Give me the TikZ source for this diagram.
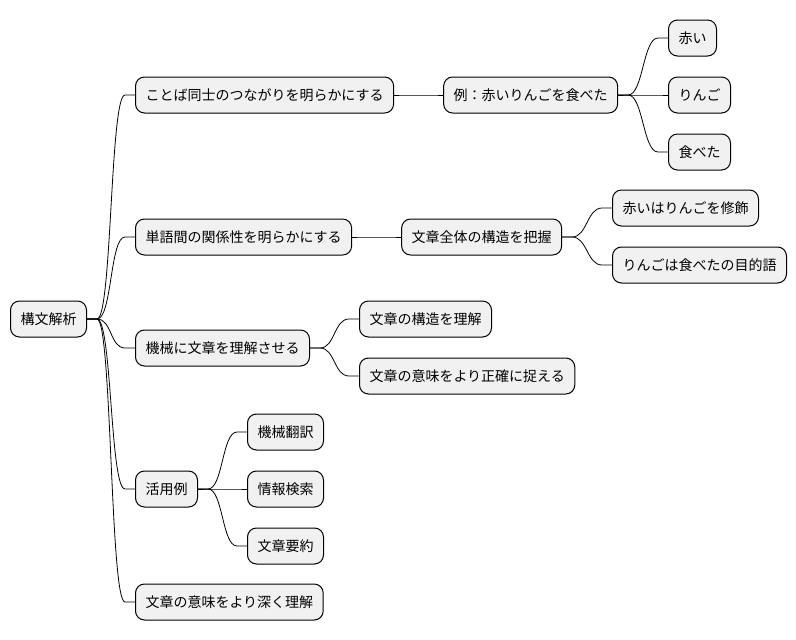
\documentclass[tikz,border=0pt]{standalone}
\usepackage{fontspec}
\setmainfont{Noto Sans CJK JP}
\usepackage{xcolor}
\usepackage{tikz}
\usetikzlibrary{positioning}
\definecolor{boxgray}{HTML}{F1F1F1}
\tikzset{
    mbox/.style={draw, rounded corners=9pt, fill=boxgray, line width=1pt, anchor=west,
        minimum height=36pt, inner xsep=10pt, inner ysep=0pt, font=\fontsize{14pt}{16pt}\selectfont},
    link/.style={line width=0.8pt, to path={-- ++(10,0) .. controls +(15,0) and +(-15,0) .. ([xshift=-10pt]\tikztotarget) -- (\tikztotarget)}}
}

\begin{document}
\begin{tikzpicture}[x=1pt, y=-1pt]
    \useasboundingbox (0,0) rectangle (796,640);
    \node (root) [mbox] at (10,319) {構文解析};
    % first branch
    \node (rel1) [mbox] at (135,95) {ことば同士のつながりを明らかにする};
    \node (ex1) [mbox, right=49pt of rel1] {例：赤いりんごを食べた};
    \node (aka) [mbox] at (668,38) {赤い};
    \node (ringo) [mbox] at (668,95) {りんご};
    \node (tabeta) [mbox] at (668,152) {食べた};
    % second branch
    \node (rel2) [mbox] at (135,237) {単語間の関係性を明らかにする};
    \node (whole) [mbox, right=49pt of rel2] {文章全体の構造を把握};
    \node (mod) [mbox] at (612,208) {赤いはりんごを修飾};
    \node (obj) [mbox] at (612,265) {りんごは食べたの目的語};
    % third branch
    \node (mach) [mbox] at (135,348) {機械に文章を理解させる};
    \node (struct) [mbox] at (359,319) {文章の構造を理解};
    \node (mean) [mbox] at (359,376) {文章の意味をより正確に捉える};
    % uses
    \node (use) [mbox] at (135,489) {活用例};
    \node (mt) [mbox] at (247,432) {機械翻訳};
    \node (ir) [mbox] at (247,489) {情報検索};
    \node (summ) [mbox] at (247,546) {文章要約};
    \node (deep) [mbox] at (135,602) {文章の意味をより深く理解};

    \draw [link] (root.east) to (rel1.west);
    \draw [link] (root.east) to (rel2.west);
    \draw [link] (root.east) to (mach.west);
    \draw [link] (root.east) to (use.west);
    \draw [link] (root.east) to (deep.west);
    \draw [link] (rel1.east) to (ex1.west);
    \draw [link] (ex1.east) to (aka.west);
    \draw [link] (ex1.east) to (ringo.west);
    \draw [link] (ex1.east) to (tabeta.west);
    \draw [link] (rel2.east) to (whole.west);
    \draw [link] (whole.east) to (mod.west);
    \draw [link] (whole.east) to (obj.west);
    \draw [link] (mach.east) to (struct.west);
    \draw [link] (mach.east) to (mean.west);
    \draw [link] (use.east) to (mt.west);
    \draw [link] (use.east) to (ir.west);
    \draw [link] (use.east) to (summ.west);
\end{tikzpicture}
\end{document}
